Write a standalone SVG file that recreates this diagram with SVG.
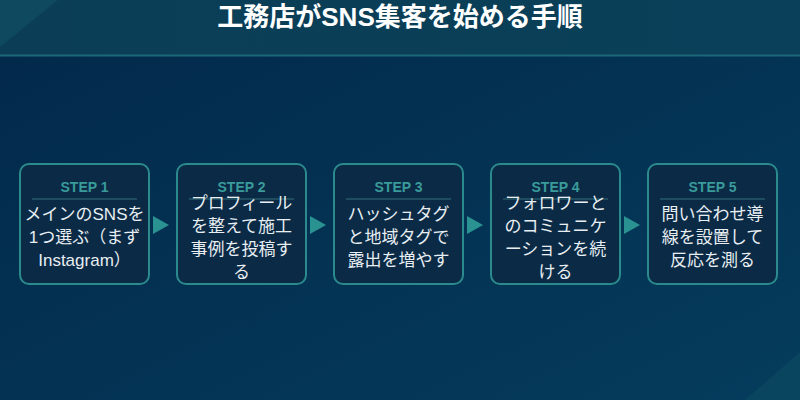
<svg xmlns="http://www.w3.org/2000/svg" width="800" height="400" viewBox="0 0 800 400">
  <defs>
    <linearGradient id="bodyBg" x1="0" y1="0" x2="1" y2="1">
      <stop offset="0" stop-color="#02284a"/>
      <stop offset="1" stop-color="#053c5c"/>
    </linearGradient>
    <linearGradient id="headBg" x1="0" y1="0" x2="1" y2="0">
      <stop offset="0" stop-color="#0b3d56"/>
      <stop offset="1" stop-color="#0a4059"/>
    </linearGradient>
    <style>
      .box { fill: #0a2a46; stroke: #2b8a8c; stroke-width: 2; }
      .step { fill: #3a9b9b; font-family: "Liberation Sans", "Noto Sans CJK JP", sans-serif; font-size: 14px; font-weight: bold; text-anchor: middle; }
      .div { stroke: #1d4d5e; stroke-width: 2; }
      .body { fill: #e8eef2; font-family: "Liberation Sans", "Noto Sans CJK JP", sans-serif; font-size: 17px; text-anchor: middle; }
      .arrow { fill: #2b9292; }
      .title { fill: #ffffff; font-family: "Liberation Sans", "Noto Sans CJK JP", sans-serif; font-size: 26px; font-weight: bold; text-anchor: middle; }
    </style>
  </defs>

  <!-- background -->
  <rect x="0" y="0" width="800" height="400" fill="url(#bodyBg)"/>
  <polygon points="745,400 800,352 800,400" fill="#0a4560"/>
  <rect x="0" y="0" width="800" height="55" fill="url(#headBg)"/>
  <polygon points="0,0 58,0 0,47" fill="#0e4960"/>
  <line x1="0" y1="55.5" x2="800" y2="55.5" stroke="#1d6878" stroke-width="2"/>

  <text class="title" x="400" y="26">工務店がSNS集客を始める手順</text>

  <g id="connectors">
    <polygon class="arrow" points="153,216 169,225 153,234"/>
    <polygon class="arrow" points="310,216 326,225 310,234"/>
    <polygon class="arrow" points="467,216 483,225 467,234"/>
    <polygon class="arrow" points="624,216 640,225 624,234"/>
  </g>

  <g id="step1">
    <rect class="box" x="20" y="164" width="129" height="120" rx="9"/>
    <text class="step" x="84.5" y="192">STEP 1</text>
    <line class="div" x1="32" y1="199" x2="137" y2="199"/>
    <text class="body" x="84.5" y="220">メインのSNSを</text>
    <text class="body" x="84.5" y="243">1つ選ぶ（まず</text>
    <text class="body" x="84.5" y="266">Instagram）</text>
  </g>

  <g id="step2">
    <rect class="box" x="177" y="164" width="129" height="120" rx="9"/>
    <text class="step" x="241.5" y="192">STEP 2</text>
    <line class="div" x1="189" y1="199" x2="294" y2="199"/>
    <text class="body" x="241.5" y="209">プロフィール</text>
    <text class="body" x="241.5" y="232">を整えて施工</text>
    <text class="body" x="241.5" y="255">事例を投稿す</text>
    <text class="body" x="241.5" y="278">る</text>
  </g>

  <g id="step3">
    <rect class="box" x="334" y="164" width="129" height="120" rx="9"/>
    <text class="step" x="398.5" y="192">STEP 3</text>
    <line class="div" x1="346" y1="199" x2="451" y2="199"/>
    <text class="body" x="398.5" y="220">ハッシュタグ</text>
    <text class="body" x="398.5" y="243">と地域タグで</text>
    <text class="body" x="398.5" y="266">露出を増やす</text>
  </g>

  <g id="step4">
    <rect class="box" x="491" y="164" width="129" height="120" rx="9"/>
    <text class="step" x="555.5" y="192">STEP 4</text>
    <line class="div" x1="503" y1="199" x2="608" y2="199"/>
    <text class="body" x="555.5" y="209">フォロワーと</text>
    <text class="body" x="555.5" y="232">のコミュニケ</text>
    <text class="body" x="555.5" y="255">ーションを続</text>
    <text class="body" x="555.5" y="278">ける</text>
  </g>

  <g id="step5">
    <rect class="box" x="648" y="164" width="129" height="120" rx="9"/>
    <text class="step" x="712.5" y="192">STEP 5</text>
    <line class="div" x1="660" y1="199" x2="765" y2="199"/>
    <text class="body" x="712.5" y="220">問い合わせ導</text>
    <text class="body" x="712.5" y="243">線を設置して</text>
    <text class="body" x="712.5" y="266">反応を測る</text>
  </g>
</svg>
